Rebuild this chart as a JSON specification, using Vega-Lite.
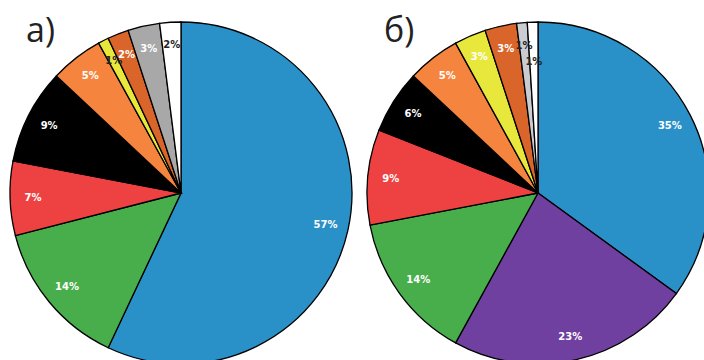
{
  "$schema": "https://vega.github.io/schema/vega-lite/v6.json",
  "padding": 0,
  "spacing": 0,
  "background": "white",
  "config": {"view": {"stroke": null}},
  "data": {"values": [
    {"chart": "a", "k": 1, "cat": "blue", "value": 57, "lbl": "57%"},
    {"chart": "a", "k": 3, "cat": "green", "value": 14, "lbl": "14%"},
    {"chart": "a", "k": 4, "cat": "red", "value": 7, "lbl": "7%"},
    {"chart": "a", "k": 5, "cat": "black", "value": 9, "lbl": "9%"},
    {"chart": "a", "k": 6, "cat": "orange", "value": 5, "lbl": "5%"},
    {"chart": "a", "k": 7, "cat": "yellow", "value": 1, "lbl": "1%"},
    {"chart": "a", "k": 8, "cat": "darkorange", "value": 2, "lbl": "2%"},
    {"chart": "a", "k": 9, "cat": "gray", "value": 3, "lbl": "3%"},
    {"chart": "a", "k": 10, "cat": "white", "value": 2, "lbl": "2%"},
    {"chart": "b", "k": 1, "cat": "blue", "value": 35, "lbl": "35%"},
    {"chart": "b", "k": 2, "cat": "purple", "value": 23, "lbl": "23%"},
    {"chart": "b", "k": 3, "cat": "green", "value": 14, "lbl": "14%"},
    {"chart": "b", "k": 4, "cat": "red", "value": 9, "lbl": "9%"},
    {"chart": "b", "k": 5, "cat": "black", "value": 6, "lbl": "6%"},
    {"chart": "b", "k": 6, "cat": "orange", "value": 5, "lbl": "5%"},
    {"chart": "b", "k": 7, "cat": "yellow", "value": 3, "lbl": "3%"},
    {"chart": "b", "k": 8, "cat": "darkorange", "value": 3, "lbl": "3%"},
    {"chart": "b", "k": 9, "cat": "lightgray", "value": 1, "lbl": "1%"},
    {"chart": "b", "k": 10, "cat": "white", "value": 1, "lbl": "1%"}
  ]},
  "hconcat": [
    {
      "width": 362,
      "height": 386,
      "transform": [{"filter": "datum.chart === 'a'"}],
      "title": {"text": "а)", "anchor": "start", "frame": "group", "offset": -76, "baseline": "alphabetic", "dx": 26, "font": "Open Sans", "fontSize": 34, "fontWeight": 400, "color": "#222"},
      "encoding": {
        "theta": {"field": "value", "type": "quantitative", "stack": true},
        "order": {"field": "k", "type": "quantitative"}
      },
      "layer": [
        {
          "mark": {"type": "arc", "radius": 171, "stroke": "black", "strokeWidth": 1.3},
          "encoding": {
            "color": {"field": "cat", "type": "nominal", "legend": null,
              "scale": {"domain": ["blue", "purple", "green", "red", "black", "orange", "yellow", "darkorange", "gray", "lightgray", "white"],
                        "range": ["#2a90c8", "#7040a0", "#48ae4c", "#ee4242", "#000000", "#f5843e", "#e8e83c", "#d9652a", "#a8a8a8", "#cbcbd2", "#ffffff"]}}
          }
        },
        {
          "mark": {"type": "text", "radius": 148, "font": "DejaVu Sans", "fontWeight": "bold", "fontSize": 10},
          "encoding": {
            "text": {"condition": {"test": "datum.cat === 'white' && datum.value <= 1", "value": ""}, "field": "lbl"},
            "color": {"condition": {"test": "datum.cat === 'white' || datum.value <= 1", "value": "#222222"}, "value": "#ffffff"}
          }
        }
      ]
    },
    {
      "width": 352,
      "height": 386,
      "transform": [{"filter": "datum.chart === 'b'"}],
      "title": {"text": "б)", "anchor": "start", "frame": "group", "offset": -76, "baseline": "alphabetic", "dx": 22, "font": "Open Sans", "fontSize": 34, "fontWeight": 400, "color": "#222"},
      "encoding": {
        "theta": {"field": "value", "type": "quantitative", "stack": true},
        "order": {"field": "k", "type": "quantitative"}
      },
      "layer": [
        {
          "mark": {"type": "arc", "radius": 171, "stroke": "black", "strokeWidth": 1.3},
          "encoding": {
            "color": {"field": "cat", "type": "nominal", "legend": null,
              "scale": {"domain": ["blue", "purple", "green", "red", "black", "orange", "yellow", "darkorange", "gray", "lightgray", "white"],
                        "range": ["#2a90c8", "#7040a0", "#48ae4c", "#ee4242", "#000000", "#f5843e", "#e8e83c", "#d9652a", "#a8a8a8", "#cbcbd2", "#ffffff"]}}
          }
        },
        {
          "mark": {"type": "text", "radius": 148, "font": "DejaVu Sans", "fontWeight": "bold", "fontSize": 10},
          "encoding": {
            "text": {"condition": {"test": "datum.cat === 'white' && datum.value <= 1", "value": ""}, "field": "lbl"},
            "color": {"condition": {"test": "datum.cat === 'white' || datum.value <= 1", "value": "#222222"}, "value": "#ffffff"}
          }
        },
        {
          "mark": {"type": "text", "radius": 131, "font": "DejaVu Sans", "fontWeight": "bold", "fontSize": 10},
          "encoding": {
            "text": {"condition": {"test": "!(datum.cat === 'white' && datum.value <= 1)", "value": ""}, "field": "lbl"},
            "color": {"value": "#222222"}
          }
        }
      ]
    }
  ]
}
